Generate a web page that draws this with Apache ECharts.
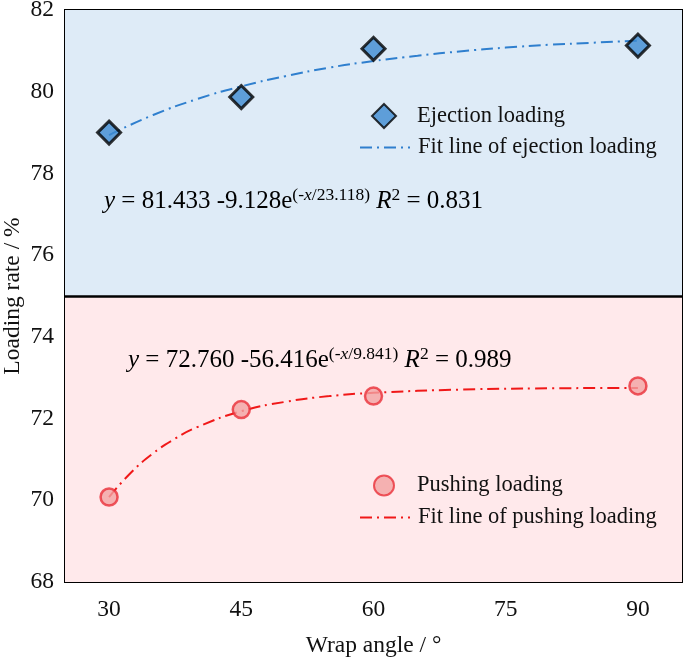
<!DOCTYPE html>
<html>
<head>
<meta charset="utf-8">
<script src="https://cdn.jsdelivr.net/npm/echarts@6/dist/echarts.min.js"></script>
<style>html,body{margin:0;padding:0;background:#fff}#c{width:685px;height:660px}</style>
</head>
<body>
<div id="c"></div>
<script>
// ---- data ----
const xTicks = [30, 45, 60, 75, 90];
const ejectionX = [30, 45, 60, 90];
const ejectionY = [79.00, 79.87, 81.05, 81.13];
const pushingX = [30, 45, 60, 90];
const pushingY = [70.08, 72.22, 72.55, 72.80];
// fit curves
const ejectionFitX = [30, 35, 40, 45, 50, 55, 60, 65, 70, 75, 80, 85, 90];
const ejectionFitY = [78.94, 79.43, 79.82, 80.13, 80.38, 80.59, 80.75, 80.88, 80.99, 81.08, 81.15, 81.20, 81.25];
const pushingFitX = [30, 32.5, 35, 37.5, 40, 45, 50, 55, 60, 70, 80, 90];
const pushingFitY = [70.08, 70.68, 71.15, 71.51, 71.79, 72.18, 72.41, 72.55, 72.63, 72.71, 72.74, 72.75];
const regionSplit = 75;
const yRange = [68, 82];
const xRange = [25, 95];

const zip = (a, b) => a.map((v, i) => [v, b[i]]);
const FONT = '"Liberation Serif", "Times New Roman", serif';
const DASH = [12, 5, 2, 5];

const chart = echarts.init(document.getElementById('c'));
const eqRich = {
  n: { fontFamily: FONT, fontSize: 25, color: '#111', lineHeight: 30 },
  i: { fontFamily: FONT, fontSize: 25, fontStyle: 'italic', color: '#111', lineHeight: 30 },
  s: { fontFamily: FONT, fontSize: 17.5, color: '#111', verticalAlign: 'top', lineHeight: 30 },
  si: { fontFamily: FONT, fontSize: 17.5, fontStyle: 'italic', color: '#111', verticalAlign: 'top', lineHeight: 30 }
};
function eqText(a, b, c, r2) {
  return '{i|y}{n| = ' + a + ' -' + b + 'e}{s|(-}{si|x}{s|/' + c + ')}{n| }{i|R}{s|2}{n| = ' + r2 + '}';
}
const legText = { fontFamily: FONT, fontSize: 22.5, color: '#111' };

chart.setOption({
  animation: false,
  grid: { left: 65, right: 3, top: 10, bottom: 78, show: true, borderColor: '#000', borderWidth: 2,
          backgroundColor: 'transparent', containLabel: false, outerBoundsMode: 'none' },
  xAxis: {
    type: 'value', min: xRange[0], max: xRange[1],
    name: 'Wrap angle / °', nameLocation: 'middle', nameGap: 52,
    nameTextStyle: { fontFamily: FONT, fontSize: 23.5, color: '#111' },
    axisLine: { lineStyle: { color: '#000', width: 2 } },
    axisTick: { inside: true, length: 8, lineStyle: { color: '#000', width: 2 }, customValues: xTicks },
    axisLabel: { fontFamily: FONT, fontSize: 23.5, color: '#111', margin: 16, customValues: xTicks },
    splitLine: { show: false }
  },
  yAxis: {
    type: 'value', min: yRange[0], max: yRange[1], interval: 2,
    name: 'Loading rate / %', nameLocation: 'middle', nameGap: 40, nameMoveOverlap: false,
    nameTextStyle: { fontFamily: FONT, fontSize: 23.5, color: '#111' },
    axisLine: { show: true, lineStyle: { color: '#000', width: 2 } },
    axisTick: { show: true, inside: true, length: 8, lineStyle: { color: '#000', width: 2 } },
    minorTick: { show: true, splitNumber: 2, length: 5, lineStyle: { color: '#000', width: 1.5 } },
    axisLabel: { fontFamily: FONT, fontSize: 23.5, color: '#111', margin: 11 },
    splitLine: { show: false }
  },
  legend: [
    {
      left: 371, top: 103, padding: 0, itemWidth: 24, itemHeight: 24,
      textStyle: Object.assign({ padding: [0, 0, 0, 16] }, legText),
      data: ['Ejection loading']
    },
    {
      left: 359, top: 136, padding: 0, itemWidth: 50, itemHeight: 14,
      textStyle: Object.assign({ padding: [0, 0, 0, 3] }, legText),
      data: [{ name: 'Fit line of ejection loading', itemStyle: { opacity: 0 } }]
    },
    {
      left: 373, top: 474, padding: 0, itemWidth: 20, itemHeight: 20,
      textStyle: Object.assign({ padding: [0, 0, 0, 18] }, legText),
      data: ['Pushing loading']
    },
    {
      left: 359, top: 506, padding: 0, itemWidth: 50, itemHeight: 14,
      textStyle: Object.assign({ padding: [0, 0, 0, 3] }, legText),
      data: [{ name: 'Fit line of pushing loading', itemStyle: { opacity: 0 } }]
    }
  ],
  series: [
    {
      name: 'regions', type: 'line', data: [], silent: true,
      markArea: {
        silent: true,
        data: [
          [{ yAxis: regionSplit, itemStyle: { color: '#deebf7' } }, { yAxis: yRange[1] }],
          [{ yAxis: yRange[0], itemStyle: { color: '#ffe9eb' } }, { yAxis: regionSplit }]
        ]
      },
      markLine: {
        silent: true, symbol: 'none', label: { show: false },
        lineStyle: { color: '#000', width: 2.5, type: 'solid' },
        data: [{ yAxis: regionSplit }]
      }
    },
    {
      name: 'Fit line of ejection loading', type: 'line', smooth: true, symbol: 'none', showSymbol: false,
      data: zip(ejectionFitX, ejectionFitY), z: 3,
      lineStyle: { color: '#2f7fce', width: 2, type: DASH },
      itemStyle: { color: '#2f7fce' }
    },
    {
      name: 'Fit line of pushing loading', type: 'line', smooth: true, symbol: 'none', showSymbol: false,
      data: zip(pushingFitX, pushingFitY), z: 3,
      lineStyle: { color: '#f01818', width: 2, type: DASH },
      itemStyle: { color: '#f01818' }
    },
    {
      name: 'Ejection loading', type: 'scatter', symbol: 'diamond', symbolSize: 23, z: 4,
      data: zip(ejectionX, ejectionY),
      itemStyle: { color: '#3d8bd1', borderColor: '#000', borderWidth: 3 }
    },
    {
      name: 'Pushing loading', type: 'scatter', symbol: 'circle', symbolSize: 17, z: 4,
      data: zip(pushingX, pushingY),
      itemStyle: { color: '#f2a2a2', borderColor: '#ea3038', borderWidth: 2.5 }
    }
  ],
  graphic: [
    { type: 'text', left: 104, top: 186, z: 10, style: { text: eqText('81.433', '9.128', '23.118', '0.831'), rich: eqRich } },
    { type: 'text', left: 128, top: 345, z: 10, style: { text: eqText('72.760', '56.416', '9.841', '0.989'), rich: eqRich } }
  ]
});
</script>
</body>
</html>
